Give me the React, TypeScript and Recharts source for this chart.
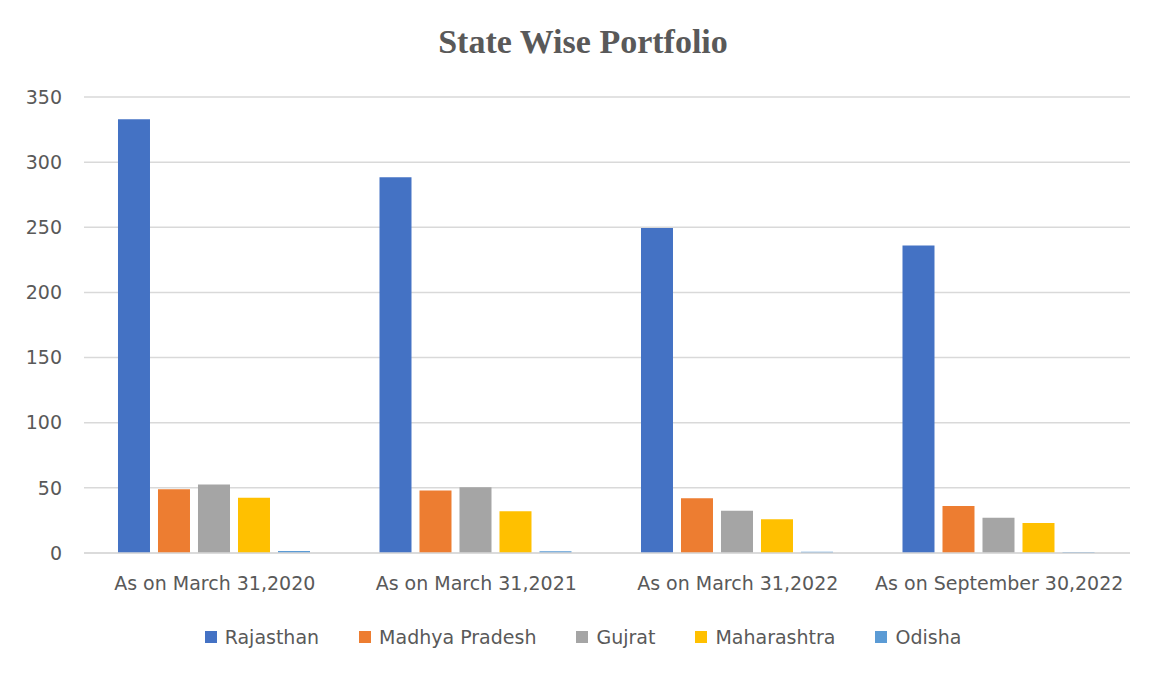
import React from "react";
import { BarChart, Bar, XAxis, YAxis, CartesianGrid, Legend } from "recharts";

const periods = [
  "As on March 31,2020",
  "As on March 31,2021",
  "As on March 31,2022",
  "As on September 30,2022",
];

const rajasthan = [333, 288.5, 249.5, 236];
const madhyaPradesh = [49, 48, 42, 36];
const gujrat = [52.5, 50.5, 32.5, 27];
const maharashtra = [42.5, 32, 26, 23];
const odisha = [1.5, 1.3, 1, 0.7];

const yTicks = [0, 50, 100, 150, 200, 250, 300, 350];

const seriesList = [
  { key: "Rajasthan", color: "#4472C4" },
  { key: "Madhya Pradesh", color: "#ED7D31" },
  { key: "Gujrat", color: "#A5A5A5" },
  { key: "Maharashtra", color: "#FFC000" },
  { key: "Odisha", color: "#5B9BD5" },
];

const data = periods.map((name, i) => ({
  name,
  Rajasthan: rajasthan[i],
  "Madhya Pradesh": madhyaPradesh[i],
  Gujrat: gujrat[i],
  Maharashtra: maharashtra[i],
  Odisha: odisha[i],
}));

const labelFont = "'DejaVu Sans', sans-serif";

// legend drawn as a flat row of square swatches, like the office chart
const renderLegend = () => (
  <div
    style={{
      display: "flex",
      justifyContent: "center",
      alignItems: "center",
      gap: 40,
      fontFamily: labelFont,
      fontSize: 19,
      color: "#595959",
      paddingLeft: 8,
    }}
  >
    {seriesList.map((s) => (
      <div key={s.key} style={{ display: "flex", alignItems: "center" }}>
        <span
          style={{
            display: "inline-block",
            width: 12,
            height: 12,
            background: s.color,
            marginRight: 8,
          }}
        />
        <span>{s.key}</span>
      </div>
    ))}
  </div>
);

const App: React.FC = () => {
  return (
    <div
      style={{
        position: "relative",
        width: 1142,
        height: 666,
        marginTop: -4,
        marginLeft: -1,
        borderLeft: "1px solid #d9d9d9",
        borderTop: "1px solid #d9d9d9",
        borderRight: "1px solid #d9d9d9",
        background: "#fff",
      }}
    >
      <div
        style={{
          position: "absolute",
          top: 18,
          left: 4,
          width: "100%",
          textAlign: "center",
          fontFamily: "'Liberation Serif', 'Times New Roman', serif",
          fontWeight: "bold",
          fontSize: 34,
          color: "#595959",
        }}
      >
        State Wise Portfolio
      </div>
      <BarChart
        width={1142}
        height={660}
        data={data}
        margin={{ top: 92, right: 20, left: 0, bottom: 62 }}
        barCategoryGap="13%"
        barGap={8}
      >
        <CartesianGrid vertical={false} stroke="#d9d9d9" strokeWidth={1.5} />
        <XAxis
          dataKey="name"
          axisLine={{ stroke: "#d9d9d9", strokeWidth: 1.5 }}
          tickLine={false}
          tickSize={0}
          tickMargin={24}
          height={50}
          interval={0}
          tick={{ fill: "#595959", fontSize: 19, fontFamily: labelFont }}
        />
        <YAxis
          domain={[0, 350]}
          ticks={yTicks}
          axisLine={false}
          tickLine={false}
          tickSize={0}
          tickMargin={22}
          width={76}
          tick={{ fill: "#595959", fontSize: 19, fontFamily: labelFont }}
        />
        <Legend
          verticalAlign="middle"
          align="center"
          content={renderLegend}
          wrapperStyle={{ top: 621, left: 0, width: 1142, height: 24 }}
        />
        {seriesList.map((s) => (
          <Bar key={s.key} dataKey={s.key} fill={s.color} isAnimationActive={false} />
        ))}
      </BarChart>
    </div>
  );
};

export default App;
